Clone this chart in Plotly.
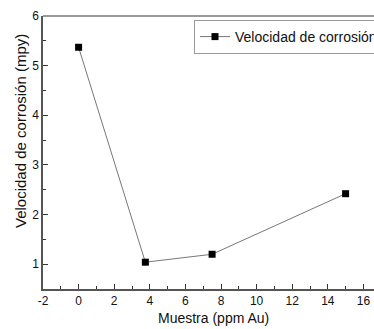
import plotly.graph_objects as go

muestra = [0, 3.75, 7.5, 15]
velocidad = [5.37, 1.04, 1.20, 2.42]
serie = "Velocidad de corrosión"
x_title = "Muestra (ppm Au)"
y_title = "Velocidad de corrosión (mpy)"
x_ticks = [-2, 0, 2, 4, 6, 8, 10, 12, 14, 16, 18]
x_ticklabels = ["-2", "0", "2", "4", "6", "8", "10", "12", "14", "16", "18"]
y_ticks = [1, 2, 3, 4, 5, 6]
y_ticklabels = ["1", "2", "3", "4", "5", "6"]

W, H = 399, 329
L, R, T, B = 43, 0, 16, 40
PW, PH = W - L - R, H - T - B

fig = go.Figure()
fig.add_trace(go.Scatter(
    x=muestra, y=velocidad, mode="lines+markers", name=serie,
    line=dict(color="#777777", width=1),
    marker=dict(symbol="square", size=7, color="black"),
))

FONT = "Liberation Sans, Arial, sans-serif"
axis_font = dict(family=FONT, size=12, color="#111111")
fig.update_layout(
    width=W, height=H,
    margin=dict(l=L, r=R, t=T, b=B, autoexpand=False),
    plot_bgcolor="white", paper_bgcolor="white",
    font=dict(family=FONT, color="#111111"),
    showlegend=True,
    legend=dict(x=(194 - L) / PW, y=(H - B - 20) / PH, xanchor="left", yanchor="top",
                bordercolor="#999999", borderwidth=1, bgcolor="white",
                font=dict(size=14), itemwidth=30,
                tracegroupgap=0),
    xaxis=dict(range=[-2, 18], tickmode="array", tickvals=x_ticks, ticktext=x_ticklabels,
               ticks="inside", ticklen=5, tickcolor="#333333",
               showline=True, linecolor="#555555", linewidth=1.5, mirror=False,
               showgrid=False, zeroline=False, tickfont=axis_font,
               minor=dict(ticks="inside", dtick=1, tick0=-2, ticklen=3, tickcolor="#333333")),
    yaxis=dict(range=[0.5, 6], tickmode="array", tickvals=y_ticks, ticktext=y_ticklabels,
               ticks="inside", ticklen=5, tickcolor="#333333",
               showline=True, linecolor="#555555", linewidth=1.5, mirror=False,
               showgrid=False, zeroline=False, tickfont=axis_font,
               minor=dict(ticks="inside", dtick=0.5, tick0=0.5, ticklen=3, tickcolor="#333333")),
    shapes=[dict(type="line", xref="paper", yref="paper", x0=0, x1=1, y0=1, y1=1,
                 line=dict(color="#777777", width=1.5))],
    annotations=[
        dict(text=x_title, xref="paper", yref="paper", x=(213 - L) / PW, y=-(318 - (H - B)) / PH,
             xanchor="center", yanchor="middle", showarrow=False, font=dict(size=14)),
        dict(text=y_title, xref="paper", yref="paper", x=-(L - 20.5) / PW, y=(H - B - 131.5) / PH,
             xanchor="center", yanchor="middle", textangle=-90, showarrow=False, font=dict(size=15)),
    ],
)

fig.write_html("out.html", config={"displayModeBar": False})
